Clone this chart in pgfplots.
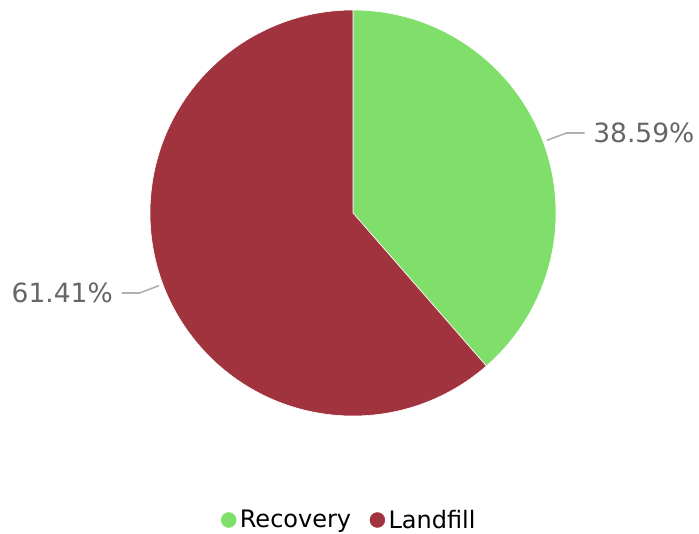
\documentclass[border=0pt]{standalone}
\usepackage{pgfplots}
\pgfplotsset{compat=1.18}
\usepackage{pgfplotstable}
\usetikzlibrary{calc}
\usepackage{fontspec}
\setmainfont{DejaVu Sans}

\definecolor{recov}{RGB}{128,223,106}
\definecolor{landf}{RGB}{160,51,61}
\definecolor{lbl}{RGB}{102,102,102}
\definecolor{leader}{RGB}{175,175,175}

% share of each category, in percent
\pgfplotstableread{
name     value
Recovery 38.59
Landfill 61.41
}\piedata

\begin{document}
\begin{tikzpicture}
\useasboundingbox (0,0) rectangle (699pt,533pt);
\pgfplotstablegetelem{0}{value}\of\piedata \let\va\pgfplotsretval
\pgfplotstablegetelem{1}{value}\of\piedata \let\vb\pgfplotsretval
\pgfmathsetmacro\angA{90-3.6*\va}      % end of Recovery slice (clockwise from top)
\pgfmathsetmacro\angB{\angA-3.6*\vb}   % end of Landfill slice
\pgfmathsetmacro\midA{90-1.8*\va}
\pgfmathsetmacro\midB{\angA-1.8*\vb}
\begin{axis}[
    x=1pt, y=1pt,
    xmin=0, xmax=699, ymin=0, ymax=533,
    scale only axis, hide axis, clip=false,
    at={(0,0)}, anchor=south west,
    legend columns=-1,
    legend image code/.code={\fill[#1] (0pt,0pt) circle (7.5pt);},
    legend style={
        draw=none, fill=none,
        at={(axis cs:350,13)}, anchor=center,
        font=\fontsize{24}{28}\selectfont,
        nodes={inner sep=3.5pt},
        /tikz/every even column/.append style={column sep=15pt},
    },
]
    \addlegendimage{recov}
    \addlegendentry{Recovery}
    \addlegendimage{landf}
    \addlegendentry{Landfill}

    % slices
    \fill[recov, draw=white, line width=0.6pt] (axis cs:353,320) -- ++(90:203pt)
        arc[start angle=90, end angle=\angA, radius=203pt] -- cycle;
    \fill[landf, draw=white, line width=0.6pt] (axis cs:353,320) -- ++(\angA:203pt)
        arc[start angle=\angA, end angle=\angB, radius=203pt] -- cycle;

    % leader lines and value labels
    \draw[leader, line width=1.6pt] ($(axis cs:353,320)+(\midA:207pt)$)
        -- ($(axis cs:353,320)+(\midA:228pt)$) -- ++(18pt,0)
        node[right, inner sep=0pt, xshift=8pt, text=lbl,
             font=\fontsize{26.5}{30}\selectfont] {\va\%};
    \draw[leader, line width=1.6pt] ($(axis cs:353,320)+(\midB:207pt)$)
        -- ($(axis cs:353,320)+(\midB:228pt)$) -- ++(-18pt,0)
        node[left, inner sep=0pt, xshift=-8pt, text=lbl,
             font=\fontsize{26.5}{30}\selectfont] {\vb\%};
\end{axis}
\end{tikzpicture}
\end{document}
